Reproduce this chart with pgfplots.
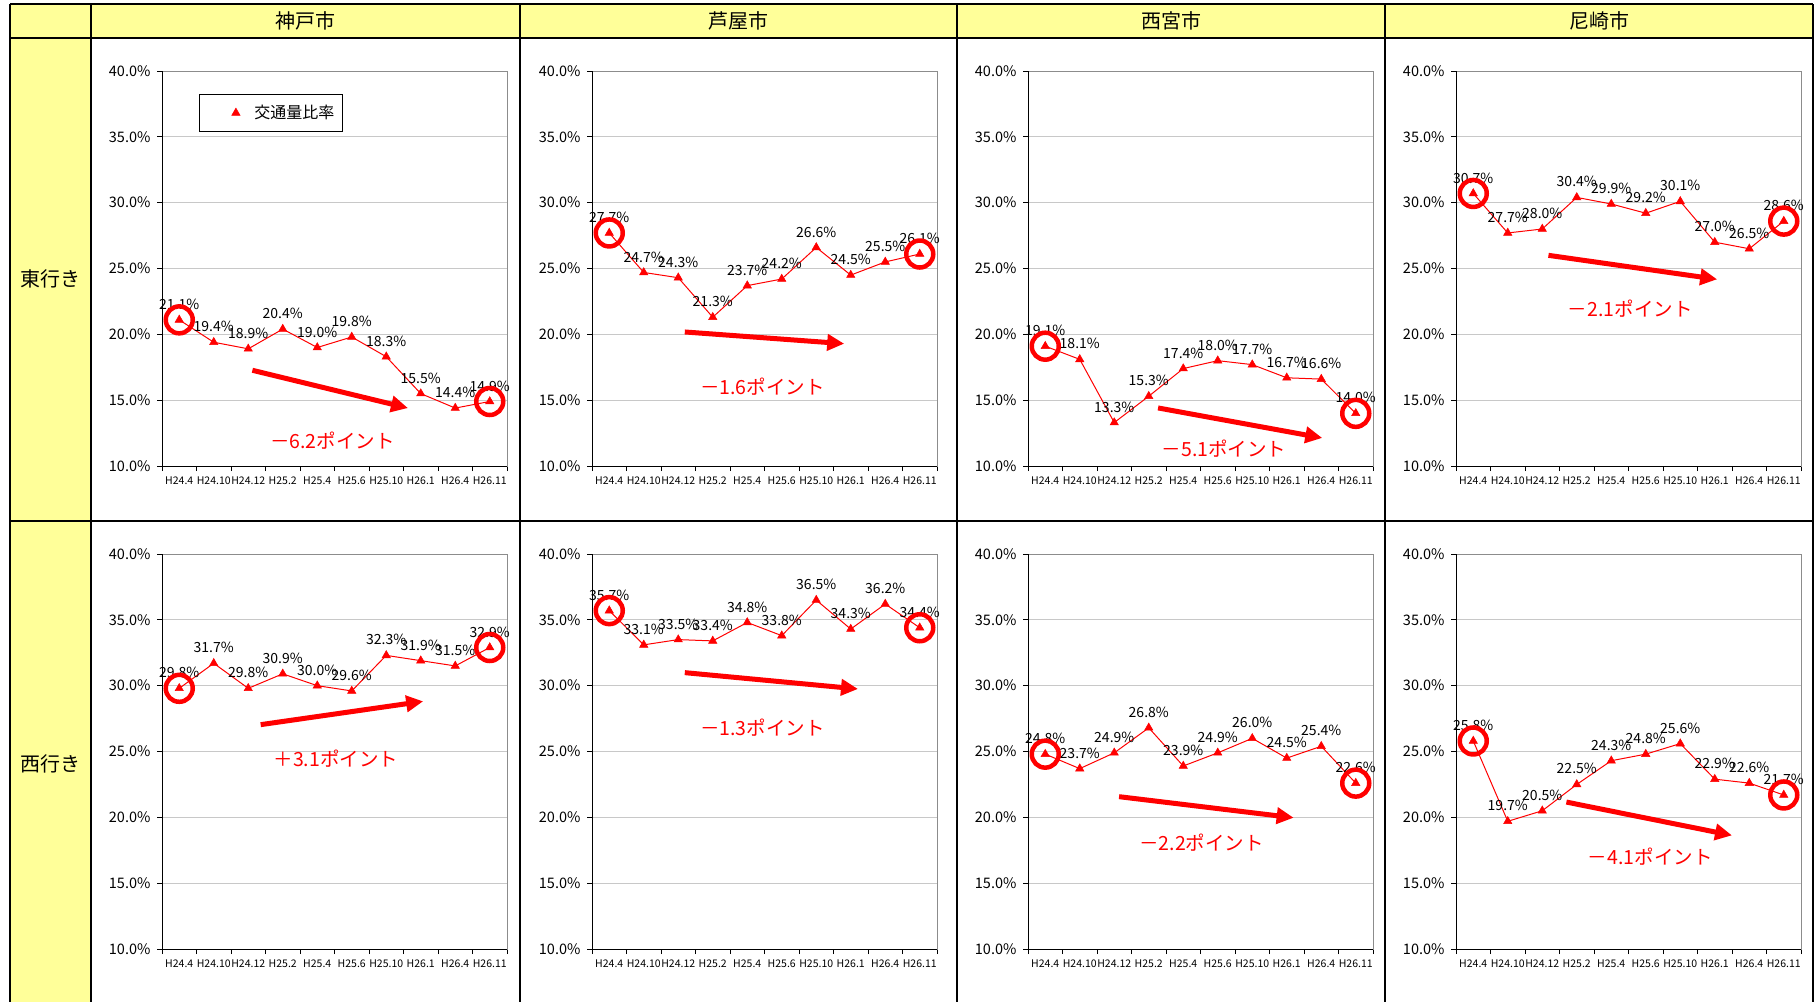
\documentclass[border=0pt]{standalone}
\usepackage{fontspec}
\setmainfont{Noto Sans CJK JP}
\usepackage{pgfplots}
\pgfplotsset{compat=1.18}
\usetikzlibrary{arrows.meta}
\definecolor{hdr}{HTML}{FFFF99}
\definecolor{gridgray}{HTML}{C8C8C8}
\definecolor{boxgray}{HTML}{8C8C8C}
\pgfplotsset{
  panel/.style={
    scale only axis, width=345pt, height=395pt, anchor=north west,
    /pgf/number format/assume math mode=true,
    xmin=-0.5, xmax=9.5, ymin=10, ymax=40,
    xtick={0,...,9},
    xticklabels={H24.4,H24.10,H24.12,H25.2,H25.4,H25.6,H25.10,H26.1,H26.4,H26.11},
    minor xtick={-0.5,0.5,...,9.5},
    major x tick style={draw=none},
    minor x tick style={black, line width=1pt},
    ytick={10,15,...,40},
    yticklabel={\pgfmathprintnumber[fixed,fixed zerofill,precision=1]{\tick}\%},
    y tick style={black, line width=1pt},
    tick align=outside, major tick length=5pt, minor tick length=5pt,
    xtick pos=bottom, ytick pos=left,
    ymajorgrids, grid style={gridgray, line width=1pt},
    axis line style={boxgray, line width=1pt},
    yticklabel style={font=\fontsize{14.5}{16}\selectfont, xshift=-3pt},
    xticklabel style={font=\fontsize{10.5}{12}\selectfont, yshift=-2pt},
    legend style={at={(0.107,0.942)}, anchor=north west, draw=black, line width=1pt,
      fill=white, inner xsep=6pt, inner ysep=9pt, font=\fontsize{16}{18}\selectfont},
    legend cell align=left,
  },
  legtri/.style={legend image code/.code={%
    \draw[red, fill=red, line width=0.5pt, mark=triangle*, mark size=4.8pt, only marks] plot coordinates {(0pt,0pt)};
    \path (-30pt,0pt) (16pt,0pt);}},
  series/.style={red, line width=1pt, mark=triangle*, mark size=4.8pt,
    mark options={fill=red, line width=0.5pt},
    nodes near coords={\pgfmathprintnumber[fixed,fixed zerofill,precision=1]{\pgfplotspointmeta}\%},
    every node near coord/.append style={black, font=\fontsize{14}{16}\selectfont,
      anchor=south, inner sep=0pt, yshift=10pt}},
  circ/.style={only marks, mark=o, mark size=13.5pt, mark options={red, line width=4.5pt}},
}
\newcommand{\frameLB}{\draw[black, line width=1pt] (rel axis cs:0,1) -- (rel axis cs:0,0) -- (rel axis cs:1,0);}
\newcommand{\trend}[3]{%
  \draw[red, line width=5pt, -{Triangle[length=17pt, width=16pt]}] #1 -- #2;
  \node[red, font=\fontsize{19.5}{22}\selectfont] at #3 {\trendtext};}
\begin{document}
\begin{tikzpicture}
\path[use as bounding box, fill=white] (0pt,0pt) rectangle (1818pt,-1002pt);
% table background
\fill[hdr] (10pt,-4pt) rectangle (1813pt,-38pt);
\fill[hdr] (10pt,-4pt) rectangle (91pt,-1002pt);
\begin{scope}[black, line width=1.5pt]
\draw (10pt,-4pt) -- (1813pt,-4pt);
\draw (10pt,-38pt) -- (1813pt,-38pt);
\draw (10pt,-521pt) -- (1813pt,-521pt);
\foreach \xx in {10,91,520,957,1385,1813} {\draw (\xx pt,-4pt) -- (\xx pt,-1002pt);}
\end{scope}
\begin{scope}[font=\fontsize{20}{22}\selectfont]
\node at (305.5pt,-21pt) {神戸市};
\node at (738.5pt,-21pt) {芦屋市};
\node at (1171pt,-21pt) {西宮市};
\node at (1599pt,-21pt) {尼崎市};
\node at (50.5pt,-279pt) {東行き};
\node at (50.5pt,-764pt) {西行き};
\end{scope}

% ---------- East row ----------
\begin{axis}[panel, at={(162pt,-71pt)}]
\frameLB
\addlegendimage{legtri}
\addlegendentry{交通量比率}
\addplot[series, forget plot] coordinates {(0,21.1) (1,19.4) (2,18.9) (3,20.4) (4,19.0) (5,19.8) (6,18.3) (7,15.5) (8,14.4) (9,14.9)};
\addplot[circ, forget plot] coordinates {(0,21.1) (9,14.9)};
\def\trendtext{－6.2ポイント}
\trend{(axis cs:2.12,17.27)}{(axis cs:6.63,14.4)}{(axis cs:4.44,11.95)}
\end{axis}

\begin{axis}[panel, at={(592pt,-71pt)}]
\frameLB
\addplot[series] coordinates {(0,27.7) (1,24.7) (2,24.3) (3,21.3) (4,23.7) (5,24.2) (6,26.6) (7,24.5) (8,25.5) (9,26.1)};
\addplot[circ] coordinates {(0,27.7) (9,26.1)};
\def\trendtext{－1.6ポイント}
\trend{(axis cs:2.19,20.18)}{(axis cs:6.81,19.29)}{(axis cs:4.44,16.0)}
\end{axis}

\begin{axis}[panel, at={(1028pt,-71pt)}]
\frameLB
\addplot[series] coordinates {(0,19.1) (1,18.1) (2,13.3) (3,15.3) (4,17.4) (5,18.0) (6,17.7) (7,16.7) (8,16.6) (9,14.0)};
\addplot[circ] coordinates {(0,19.1) (9,14.0)};
\def\trendtext{－5.1ポイント}
\trend{(axis cs:3.27,14.41)}{(axis cs:8.03,12.13)}{(axis cs:5.18,11.32)}
\end{axis}

\begin{axis}[panel, at={(1456pt,-71pt)}]
\frameLB
\addplot[series] coordinates {(0,30.7) (1,27.7) (2,28.0) (3,30.4) (4,29.9) (5,29.2) (6,30.1) (7,27.0) (8,26.5) (9,28.6)};
\addplot[circ] coordinates {(0,30.7) (9,28.6)};
\def\trendtext{－2.1ポイント}
\trend{(axis cs:2.18,26.0)}{(axis cs:7.07,24.18)}{(axis cs:4.55,21.95)}
\end{axis}

% ---------- West row ----------
\begin{axis}[panel, at={(162pt,-554pt)}]
\frameLB
\addplot[series] coordinates {(0,29.8) (1,31.7) (2,29.8) (3,30.9) (4,30.0) (5,29.6) (6,32.3) (7,31.9) (8,31.5) (9,32.9)};
\addplot[circ] coordinates {(0,29.8) (9,32.9)};
\def\trendtext{＋3.1ポイント}
\trend{(axis cs:2.36,27.04)}{(axis cs:7.07,28.81)}{(axis cs:4.54,24.46)}
\end{axis}

\begin{axis}[panel, at={(592pt,-554pt)}]
\frameLB
\addplot[series] coordinates {(0,35.7) (1,33.1) (2,33.5) (3,33.4) (4,34.8) (5,33.8) (6,36.5) (7,34.3) (8,36.2) (9,34.4)};
\addplot[circ] coordinates {(0,35.7) (9,34.4)};
\def\trendtext{－1.3ポイント}
\trend{(axis cs:2.19,30.99)}{(axis cs:7.21,29.75)}{(axis cs:4.44,26.81)}
\end{axis}

\begin{axis}[panel, at={(1028pt,-554pt)}]
\frameLB
\addplot[series] coordinates {(0,24.8) (1,23.7) (2,24.9) (3,26.8) (4,23.9) (5,24.9) (6,26.0) (7,24.5) (8,25.4) (9,22.6)};
\addplot[circ] coordinates {(0,24.8) (9,22.6)};
\def\trendtext{－2.2ポイント}
\trend{(axis cs:2.14,21.57)}{(axis cs:7.20,19.97)}{(axis cs:4.53,18.08)}
\end{axis}

\begin{axis}[panel, at={(1456pt,-554pt)}]
\frameLB
\addplot[series] coordinates {(0,25.8) (1,19.7) (2,20.5) (3,22.5) (4,24.3) (5,24.8) (6,25.6) (7,22.9) (8,22.6) (9,21.7)};
\addplot[circ] coordinates {(0,25.8) (9,21.7)};
\def\trendtext{－4.1ポイント}
\trend{(axis cs:2.70,21.16)}{(axis cs:7.50,18.63)}{(axis cs:5.13,17.04)}
\end{axis}
\end{tikzpicture}
\end{document}
